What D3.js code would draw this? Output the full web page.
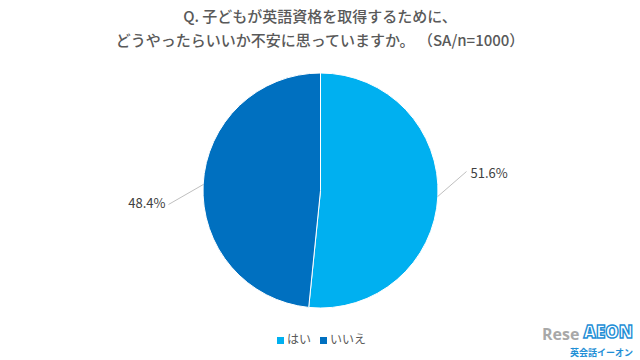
<!DOCTYPE html>
<html><head><meta charset="utf-8">
<script src="https://cdn.jsdelivr.net/npm/d3@7"></script>
<style>body{margin:0;background:#fff;}svg{display:block;}</style>
</head><body>
<svg id="c" width="640" height="360"></svg>
<script>
const titleLines = ["Q. 子どもが英語資格を取得するために、", "どうやったらいいか不安に思っていますか。 （SA/n=1000）"];
const categories = ["はい", "いいえ"];
const values = [51.6, 48.4];
const colors = ["#00B0F0", "#0070C0"];
const labels = ["51.6%", "48.4%"];

const svg = d3.select("#c");
const font = "'Noto Sans CJK JP', 'Noto Sans', sans-serif";
const cx = 320.5, cy = 190.5, r = 117.5;

svg.selectAll("text.title").data(titleLines).join("text")
  .attr("class","title")
  .attr("x", 320).attr("y", (d,i)=> 22 + i*24)
  .attr("text-anchor","middle")
  .attr("font-family", font).attr("font-size", 15).attr("font-weight", 500)
  .attr("fill", "#595959").text(d=>d);

const pie = d3.pie().sort(null).value(d=>d);
const arcs = pie(values);
const arc = d3.arc().innerRadius(0).outerRadius(r);
const g = svg.append("g").attr("transform", `translate(${cx},${cy})`);
g.selectAll("path").data(arcs).join("path")
  .attr("d", arc).attr("fill", (d,i)=>colors[i])
  .attr("stroke","#fff").attr("stroke-width",1);

// leader lines and labels
const labelPos = [[150, -16], [-153, 14]];
arcs.forEach((a,i)=>{
  const mid = (a.startAngle + a.endAngle)/2;
  const p0 = [Math.sin(mid)*r, -Math.cos(mid)*r];
  const lp = labelPos[i];
  const end = i===0 ? [lp[0]-4, lp[1]-3] : [lp[0]+1, lp[1]+0];
  g.append("line")
    .attr("x1", p0[0]).attr("y1", p0[1]).attr("x2", end[0]).attr("y2", end[1])
    .attr("stroke", "#bfbfbf").attr("stroke-width", 1);
  g.append("text")
    .attr("x", i===0 ? lp[0] : lp[0]-2).attr("y", lp[1])
    .attr("text-anchor", i===0 ? "start" : "end")
    .attr("dominant-baseline","middle")
    .attr("font-family", font).attr("font-size", 13)
    .attr("fill", "#404040").text(labels[i]);
});

// legend
const legend = svg.append("g");
const lx = [277, 320];
categories.forEach((c,i)=>{
  legend.append("rect").attr("x", lx[i]).attr("y", 337).attr("width", 7).attr("height", 7).attr("fill", colors[i]);
  legend.append("text").attr("x", lx[i]+10).attr("y", 341).attr("dominant-baseline","middle")
    .attr("font-family", font).attr("font-size", 12).attr("fill", "#595959").text(c);
});

// watermark
svg.append("text").attr("x", 542).attr("y", 340).attr("font-family","'Open Sans', sans-serif")
  .attr("font-size", 16).attr("font-weight", 700).attr("fill", "#6f6f6f").attr("opacity",0.6).text("Rese");
svg.append("text").attr("x", 633).attr("y", 338).attr("text-anchor","end").attr("font-family","'Open Sans', sans-serif")
  .attr("font-size", 17).attr("font-weight", 800).attr("fill", "none").attr("stroke","#1f8fd6").attr("stroke-width",1.4).text("AEON");
svg.append("text").attr("x", 633).attr("y", 356).attr("text-anchor","end").attr("font-family", font)
  .attr("font-size", 9).attr("font-weight", 700).attr("fill", "#1f8fd6").text("英会話イーオン");
</script>
</body></html>
